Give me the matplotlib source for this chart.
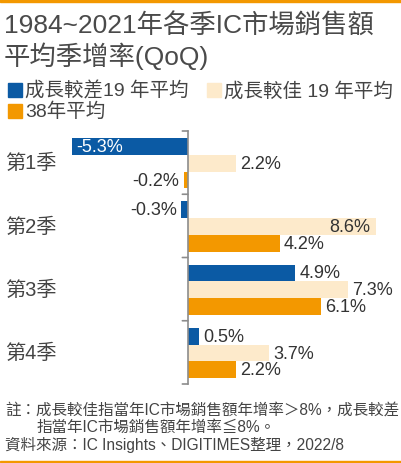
import matplotlib
matplotlib.use("Agg")
import matplotlib.pyplot as plt
import numpy as np
from matplotlib.patches import Rectangle
from matplotlib.lines import Line2D

plt.rcParams["font.family"] = ["Liberation Sans", "Noto Sans CJK TC", "DejaVu Sans"]

quarters = ["第1季", "第2季", "第3季", "第4季"]
worse = [-5.3, -0.3, 4.9, 0.5]      # 成長較差19年平均
better = [2.2, 8.6, 7.3, 3.7]      # 成長較佳19年平均
avg38 = [-0.2, 4.2, 6.1, 2.2]      # 38年平均
series_names = ["成長較差19 年平均", "成長較佳 19 年平均", "38年平均"]
colors = ["#0b5aa4", "#fdeacb", "#f39800"]

W, H = 402, 464
fig = plt.figure(figsize=(W / 100, H / 100), dpi=100)


def fx(x):
    return x / W


def fy(y):
    return 1 - y / H


# orange rules top and bottom
fig.add_artist(Rectangle((0, fy(3)), 1, 3 / H, color="#f39800", transform=fig.transFigure))
fig.add_artist(Rectangle((0, fy(463)), 1, 1.5 / H, color="#f39800", transform=fig.transFigure))

title_c = "#4a4a4a"
fig.text(fx(4), fy(26), "1984~2021年各季IC市場銷售額", fontsize=19, color=title_c, va="center")
fig.text(fx(4), fy(56), "平均季增率(QoQ)", fontsize=19, color=title_c, va="center")

# legend
leg = [(8, 91, 0), (207, 91, 1), (8, 112, 2)]
for x, y, i in leg:
    fig.add_artist(Rectangle((fx(x), fy(y + 7)), 14 / W, 14 / H, color=colors[i],
                             transform=fig.transFigure))
    fig.text(fx(x + 17), fy(y), series_names[i], fontsize=14, color="#444444", va="center")

# axes: 0 at x=188, -5.3 at x=72, 8.6 at x=376
ax = fig.add_axes([fx(72), fy(385), fx(376) - fx(72), (385 - 132) / H])
ax.set_xlim(-5.3, 8.6)
ax.set_ylim(3.5, -0.5)
ax.axis("off")

y = np.arange(len(quarters))
offsets = [-0.255, 0.01, 0.275]
h = 0.265
for vals, off, c in zip([worse, better, avg38], offsets, colors):
    ax.barh(y + off, vals, height=h, color=c)
    for yi, v in zip(y, vals):
        lab = f"{v:.1f}%"
        if v == min(worse):
            ax.annotate(lab, (v, yi + off), xytext=(3, 0), textcoords="offset points",
                        ha="left", va="center", fontsize=13, color="white")
        elif v == max(better):
            ax.annotate(lab, (v, yi + off), xytext=(-4, 0), textcoords="offset points",
                        ha="right", va="center", fontsize=13, color="#333333")
        elif v < 0:
            ax.annotate(lab, (v, yi + off), xytext=(-3, 0), textcoords="offset points",
                        ha="right", va="center", fontsize=13, color="#333333")
        else:
            ax.annotate(lab, (v, yi + off), xytext=(3, 0), textcoords="offset points",
                        ha="left", va="center", fontsize=13, color="#333333")

# vertical axis at zero with ticks at group boundaries
axis_c = "#8c8c8c"
ax.add_line(Line2D([0, 0], [-0.5, 3.5], color=axis_c, lw=1.2, clip_on=False))
for b in np.arange(-0.5, 4.0, 1.0):
    ax.annotate("", xy=(0, b), xytext=(-4, 0), textcoords="offset points",
                arrowprops=dict(arrowstyle="-", color=axis_c, lw=1.2,
                                shrinkA=0, shrinkB=0))

for yi, q in zip(y, quarters):
    fig.text(fx(5), ax.transData.transform((0, yi))[1] / H, q, fontsize=14.5,
             color="#444444", va="center")

note_c = "#444444"
fig.text(fx(5), fy(410), "註：成長較佳指當年IC市場銷售額年增率＞8%，成長較差",
         fontsize=11.2, color=note_c, va="center")
fig.text(fx(37), fy(427), "指當年IC市場銷售額年增率≦8%。",
         fontsize=11.2, color=note_c, va="center")
fig.text(fx(5), fy(445), "資料來源：IC Insights、DIGITIMES整理，2022/8",
         fontsize=11.2, color=note_c, va="center")

fig.savefig("out.png", dpi=100, facecolor="white")
